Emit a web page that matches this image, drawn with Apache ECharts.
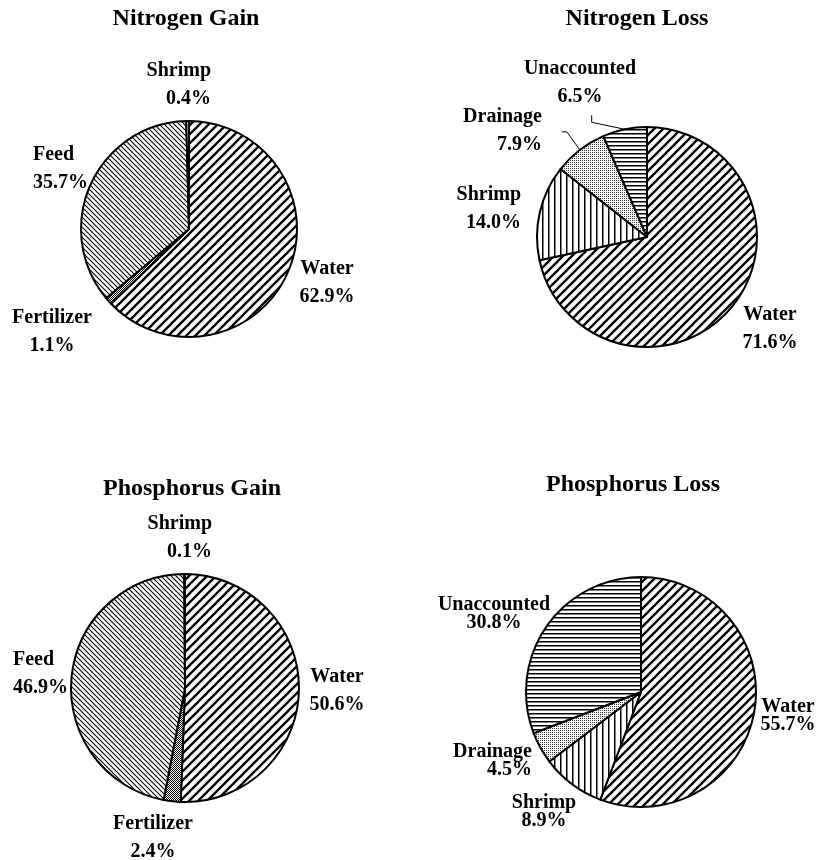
<!DOCTYPE html>
<html>
<head>
<meta charset="utf-8">
<script src="https://cdn.jsdelivr.net/npm/echarts@6/dist/echarts.min.js"></script>
<style>
html,body{margin:0;padding:0;background:#fff;}
#main{width:823px;height:860px;}
</style>
</head>
<body>
<div id="main"></div>
<script>
// ---- data ----
const titles = ['Nitrogen Gain', 'Nitrogen Loss', 'Phosphorus Gain', 'Phosphorus Loss'];
const nGainCats = ['Water', 'Fertilizer', 'Feed', 'Shrimp'];
const nGainVals = [62.9, 1.1, 35.7, 0.4];
const nLossCats = ['Water', 'Shrimp', 'Drainage', 'Unaccounted'];
const nLossVals = [71.6, 14.0, 7.9, 6.5];
const pGainCats = ['Water', 'Fertilizer', 'Feed', 'Shrimp'];
const pGainVals = [50.6, 2.4, 46.9, 0.1];
const pLossCats = ['Water', 'Shrimp', 'Drainage', 'Unaccounted'];
const pLossVals = [55.7, 8.9, 4.5, 30.8];

// ---- patterns ----
function tile(w, h, draw) {
  const c = document.createElement('canvas');
  c.width = w; c.height = h;
  const g = c.getContext('2d');
  g.fillStyle = '#fff'; g.fillRect(0, 0, w, h);
  g.fillStyle = '#000'; g.strokeStyle = '#000';
  draw(g, w, h);
  return { image: c, repeat: 'repeat' };
}
function diag(p, lw, up) {
  return tile(p, p, function (g) {
    g.lineWidth = lw;
    for (let k = -1; k <= 1; k++) {
      g.beginPath();
      if (up) { g.moveTo(k * p - 1, p + 1); g.lineTo(k * p + p + 1, -1); }
      else { g.moveTo(k * p - 1, -1); g.lineTo(k * p + p + 1, p + 1); }
      g.stroke();
    }
  });
}
const patterns = {
  Water: diag(9, 2.3, true),
  Feed: diag(5, 1.1, false),
  Fertilizer: tile(2, 2, function (g) { g.fillRect(0, 0, 1, 1); g.fillRect(1, 1, 1, 1); }),
  Drainage: tile(2, 2, function (g) { g.fillStyle = '#333'; g.fillRect(0, 0, 1, 1); }),
  Shrimp: tile(6, 6, function (g) { g.fillRect(2, 0, 1.5, 6); }),
  Unaccounted: tile(4, 4, function (g) { g.fillRect(0, 1, 4, 1.5); })
};

// ---- layout (styles) ----
const pies = [
  { cats: nGainCats, vals: nGainVals, center: [189, 229], r: 108, lh: 28, title: [186, 7],
    lab: { Shrimp: [211, 85, 'right'], Feed: [33, 169, 'left'], Water: [327, 283, 'center'], Fertilizer: [52, 332, 'center'] } },
  { cats: nLossCats, vals: nLossVals, center: [647, 237], r: 110, lh: 28, title: [637, 7],
    lab: { Unaccounted: [580, 83, 'center'], Drainage: [542, 131, 'right'], Shrimp: [521, 209, 'right'], Water: [770, 329, 'center'] },
    lines: { Drainage: [[-13, -18], [-18, -18]], Unaccounted: [[-33, -7], [-33, -14]] } },
  { cats: pGainCats, vals: pGainVals, center: [185, 688], r: 114, lh: 28, title: [192, 477],
    lab: { Shrimp: [212, 538, 'right'], Feed: [13, 674, 'left'], Water: [337, 691, 'center'], Fertilizer: [153, 838, 'center'] } },
  { cats: pLossCats, vals: pLossVals, center: [641, 692], r: 115, lh: 18, title: [633, 473],
    lab: { Unaccounted: [494, 614, 'center'], Water: [788, 716, 'center'], Drainage: [532, 761, 'right'], Shrimp: [544, 812, 'center'] } }
];

const FONT = '"Liberation Serif", "Times New Roman", serif';

const series = pies.map(function (pc) {
  return {
    type: 'pie',
    center: pc.center,
    radius: [0, pc.r],
    startAngle: 90,
    clockwise: true,
    avoidLabelOverlap: false,
    animation: false,
    silent: true,
    itemStyle: { borderColor: '#000', borderWidth: 2 },
    label: {
      show: true,
      fontFamily: FONT, fontWeight: 'bold', fontSize: 20, color: '#000',
      lineHeight: pc.lh,
      formatter: function (p) { return p.name + '\n' + p.value.toFixed(1) + '%'; }
    },
    labelLine: { show: false, lineStyle: { color: '#000', width: 1 } },
    labelLayout: function (params) {
      const name = pc.cats[params.dataIndex];
      const pos = pc.lab[name];
      const out = { x: pos[0], y: pos[1], align: pos[2], verticalAlign: 'middle' };
      if (pc.lines && pc.lines[name] && params.labelLinePoints) {
        const p0 = params.labelLinePoints[0];
        const off = pc.lines[name];
        out.labelLinePoints = [[p0[0], p0[1]], [p0[0] + off[0][0], p0[1] + off[0][1]], [p0[0] + off[1][0], p0[1] + off[1][1]]];
      }
      return out;
    },
    data: pc.cats.map(function (c, i) {
      const d = { name: c, value: pc.vals[i], itemStyle: { color: patterns[c] } };
      if (pc.lines && pc.lines[c]) d.labelLine = { show: true };
      return d;
    })
  };
});

const chart = echarts.init(document.getElementById('main'));
chart.setOption({
  backgroundColor: '#fff',
  title: pies.map(function (pc, i) {
    return {
      text: titles[i], left: pc.title[0], top: pc.title[1], textAlign: 'center', padding: 0,
      textStyle: { fontFamily: FONT, fontWeight: 'bold', fontSize: 24, color: '#000' }
    };
  }),
  series: series
});
</script>
</body>
</html>
